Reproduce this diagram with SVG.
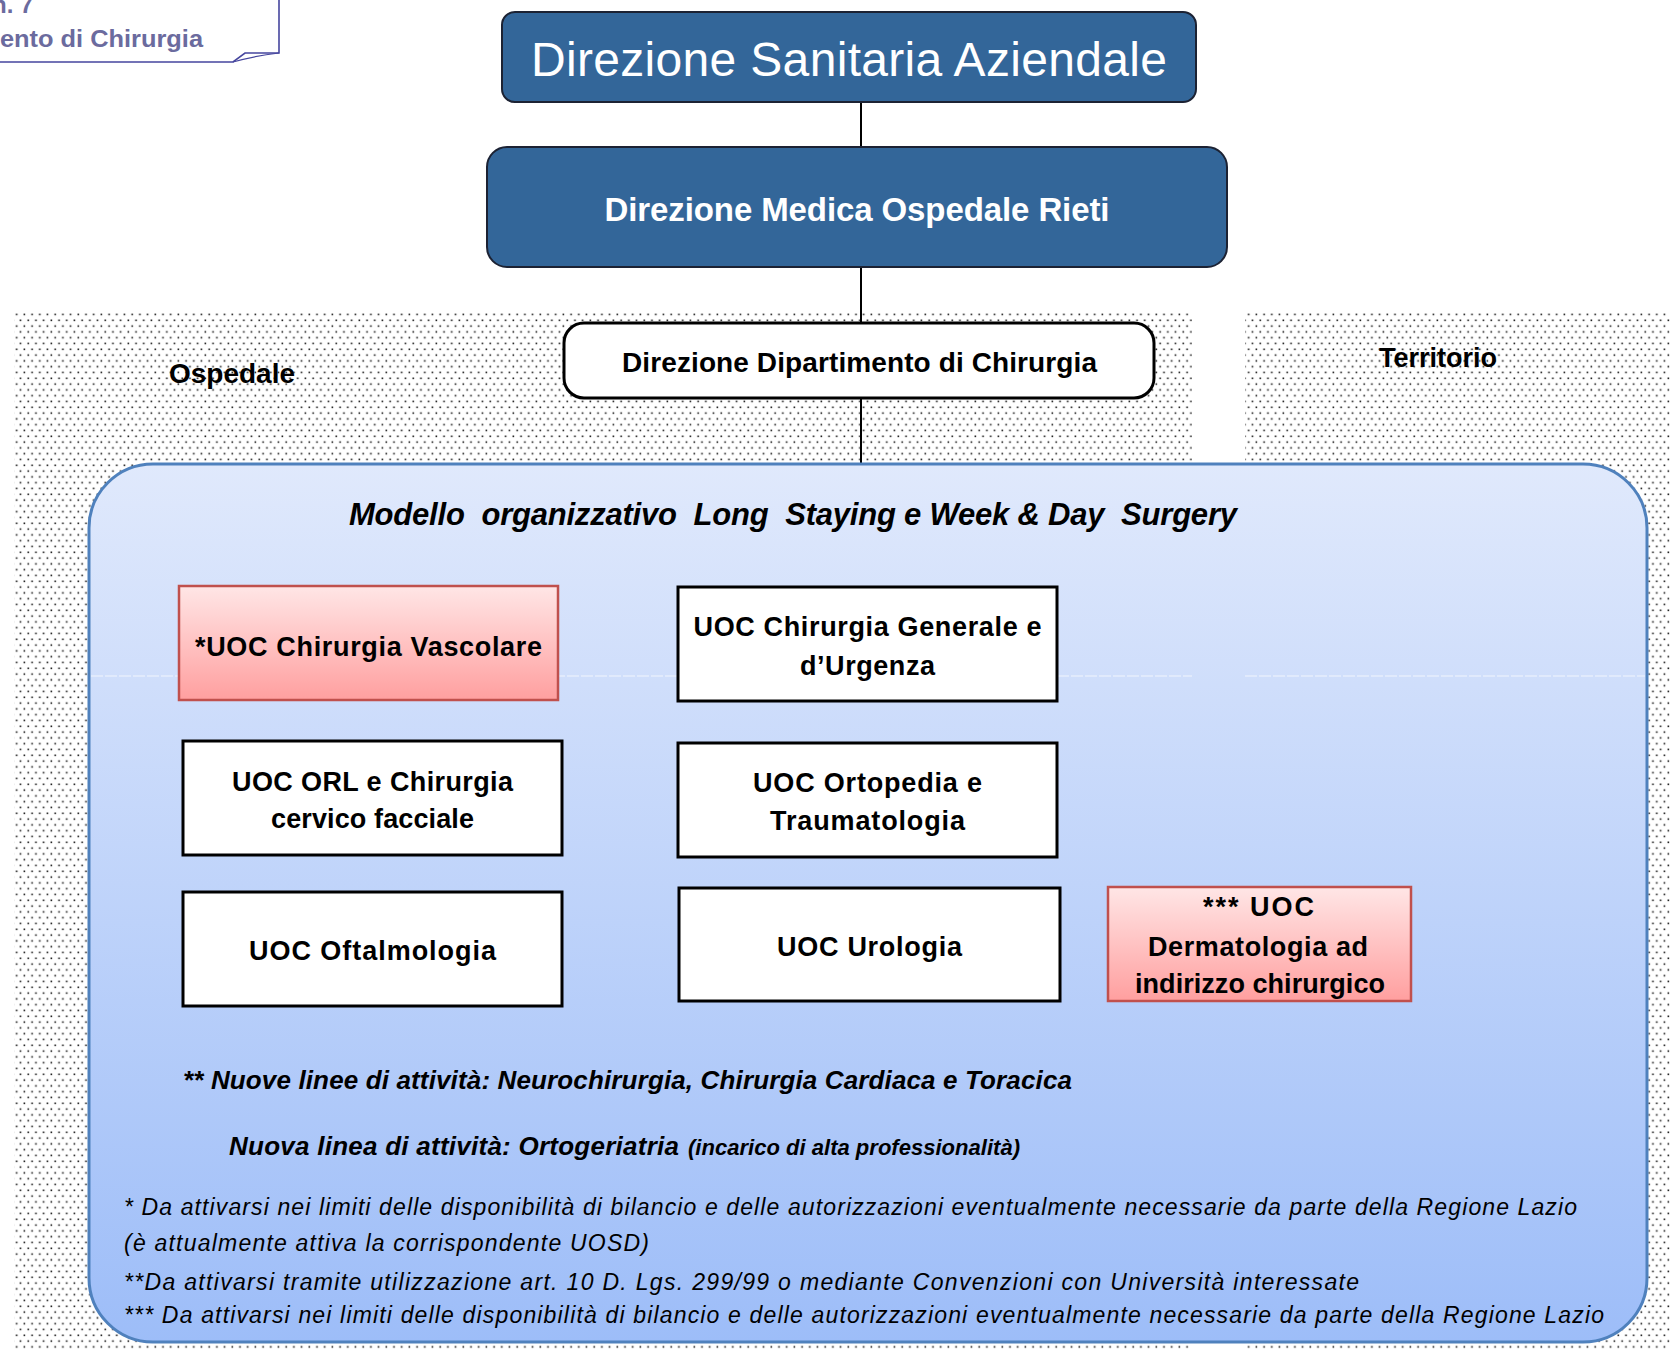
<svg xmlns="http://www.w3.org/2000/svg" width="1670" height="1357" viewBox="0 0 1670 1357">
<style>
.b{font-family:"Liberation Sans",Arial,sans-serif;font-weight:bold;fill:#000}
.bi{font-family:"Liberation Sans",Arial,sans-serif;font-weight:bold;font-style:italic;fill:#000}
.it{font-family:"Liberation Sans",Arial,sans-serif;font-style:italic;fill:#000}
.w{fill:#fff}
.box{fill:#fff;stroke:#000;stroke-width:3}
.red{fill:url(#gRed);stroke:#c0504d;stroke-width:2.5}
.dark{fill:#336699;stroke:#1c2233;stroke-width:2}
.conn{stroke:#000;stroke-width:2;fill:none}
.mid{text-anchor:middle}
</style>
<defs>
<pattern id="dots" patternUnits="userSpaceOnUse" width="7.7" height="11.6">
<rect x="0.5" y="0.5" width="1.6" height="1.6" fill="#1a1a1a"/>
<rect x="4.35" y="6.3" width="1.6" height="1.6" fill="#1a1a1a"/>
</pattern>
<linearGradient id="gBlue" x1="0" y1="0" x2="0" y2="1">
<stop offset="0" stop-color="#e0e9fc"/>
<stop offset="1" stop-color="#9dbdf8"/>
</linearGradient>
<linearGradient id="gRed" x1="0" y1="0" x2="0" y2="1">
<stop offset="0" stop-color="#ffe6e6"/>
<stop offset="1" stop-color="#ff9f9f"/>
</linearGradient>
</defs>

<rect width="1670" height="1357" fill="#fff"/>

<g id="background">
<rect x="14" y="313" width="1178" height="1037" fill="url(#dots)"/>
<rect x="1245" y="313" width="425" height="1037" fill="url(#dots)"/>
</g>

<g id="callout">
<path d="M-5,62 H233 L245,53 H279 V-5" fill="#fff" stroke="#46469e" stroke-width="1.6"/>
<path d="M233,62 Q254,56 279,53" fill="none" stroke="#46469e" stroke-width="1.2"/>
<text class="b" x="-8" y="13" font-size="24" style="fill:#6b6b9e">n. 7</text>
<text class="b" x="0" y="47" font-size="24" textLength="203" lengthAdjust="spacingAndGlyphs" style="fill:#6b6b9e">ento di Chirurgia</text>
</g>

<g id="connectors">
<line class="conn" x1="861" y1="102" x2="861" y2="147"/>
<line class="conn" x1="861" y1="267" x2="861" y2="323"/>
<line class="conn" x1="861" y1="398" x2="861" y2="464"/>
</g>

<g id="labels">
<text class="b" x="169" y="383" font-size="28" textLength="126">Ospedale</text>
<text class="b" x="1379" y="367" font-size="27" textLength="118">Territorio</text>
</g>

<g id="container">
<rect x="89" y="464" width="1558" height="878" rx="64" ry="64" fill="url(#gBlue)" stroke="#4f81bd" stroke-width="3"/>
<line x1="91" y1="676" x2="1192" y2="676" stroke="#f2f6fe" stroke-width="1.2" stroke-dasharray="12 2"/>
<line x1="1245" y1="676" x2="1645" y2="676" stroke="#f2f6fe" stroke-width="1.2" stroke-dasharray="12 2"/>
<text class="bi" x="349" y="525" font-size="31" textLength="888" xml:space="preserve">Modello  organizzativo  Long  Staying e Week &amp; Day  Surgery</text>
</g>

<g id="n-direzione-sanitaria">
<rect class="dark" x="502" y="12" width="694" height="90" rx="13"/>
<text class="w mid" x="849" y="76" font-size="48" textLength="636" style="font-family:'Liberation Sans',Arial,sans-serif">Direzione Sanitaria Aziendale</text>
</g>

<g id="n-direzione-medica">
<rect class="dark" x="487" y="147" width="740" height="120" rx="20"/>
<text class="b mid" x="857" y="221" font-size="33" textLength="505" style="fill:#fff">Direzione Medica Ospedale Rieti</text>
</g>

<g id="n-dipartimento">
<rect x="564" y="323" width="590" height="75" rx="20" fill="#fff" stroke="#000" stroke-width="3"/>
<text class="b mid" x="859.5" y="372" font-size="28" textLength="475">Direzione Dipartimento di Chirurgia</text>
</g>

<g id="n-vascolare">
<rect class="red" x="179" y="586" width="379" height="114"/>
<text class="b mid" x="368.5" y="656" font-size="27" textLength="347">*UOC Chirurgia Vascolare</text>
</g>

<g id="n-generale">
<rect class="box" x="678" y="587" width="379" height="114"/>
<text class="b mid" x="867.5" y="636" font-size="27" textLength="348">UOC Chirurgia Generale e</text>
<text class="b mid" x="867.5" y="675" font-size="27" textLength="135">d’Urgenza</text>
</g>

<g id="n-orl">
<rect class="box" x="183" y="741" width="379" height="114"/>
<text class="b mid" x="372.5" y="791" font-size="27" textLength="281">UOC ORL e Chirurgia</text>
<text class="b mid" x="372.5" y="828" font-size="27" textLength="203">cervico facciale</text>
</g>

<g id="n-ortopedia">
<rect class="box" x="678" y="743" width="379" height="114"/>
<text class="b mid" x="867.5" y="792" font-size="27" textLength="229">UOC Ortopedia e</text>
<text class="b mid" x="867.5" y="830" font-size="27" textLength="195">Traumatologia</text>
</g>

<g id="n-oftalmologia">
<rect class="box" x="183" y="892" width="379" height="114"/>
<text class="b mid" x="372.5" y="960" font-size="27" textLength="247">UOC Oftalmologia</text>
</g>

<g id="n-urologia">
<rect class="box" x="679" y="888" width="381" height="113"/>
<text class="b mid" x="869.5" y="956" font-size="27" textLength="185">UOC Urologia</text>
</g>

<g id="n-dermatologia">
<rect class="red" x="1108" y="887" width="303" height="114"/>
<text class="b mid" x="1258.5" y="916" font-size="27" textLength="111">*** UOC</text>
<text class="b mid" x="1258" y="956" font-size="27" textLength="220">Dermatologia ad</text>
<text class="b mid" x="1260" y="993" font-size="27" textLength="250">indirizzo chirurgico</text>
</g>

<g id="notes">
<text class="bi" x="183" y="1089" font-size="26" textLength="889">** Nuove linee di attività: Neurochirurgia, Chirurgia Cardiaca e Toracica</text>
<text class="bi" x="229" y="1155" font-size="26" textLength="450">Nuova linea di attività: Ortogeriatria</text>
<text class="bi" x="688" y="1155" font-size="22" textLength="332">(incarico di alta professionalità)</text>
<text class="it" x="124" y="1215" font-size="23" textLength="1453">* Da attivarsi nei limiti delle disponibilità di bilancio e delle autorizzazioni eventualmente necessarie da parte della Regione Lazio</text>
<text class="it" x="124" y="1251" font-size="23" textLength="525">(è attualmente attiva la corrispondente UOSD)</text>
<text class="it" x="124" y="1290" font-size="23" textLength="1235">**Da attivarsi tramite utilizzazione art. 10 D. Lgs. 299/99 o mediante Convenzioni con Università interessate</text>
<text class="it" x="124" y="1323" font-size="23" textLength="1480">*** Da attivarsi nei limiti delle disponibilità di bilancio e delle autorizzazioni eventualmente necessarie da parte della Regione Lazio</text>
</g>
</svg>
